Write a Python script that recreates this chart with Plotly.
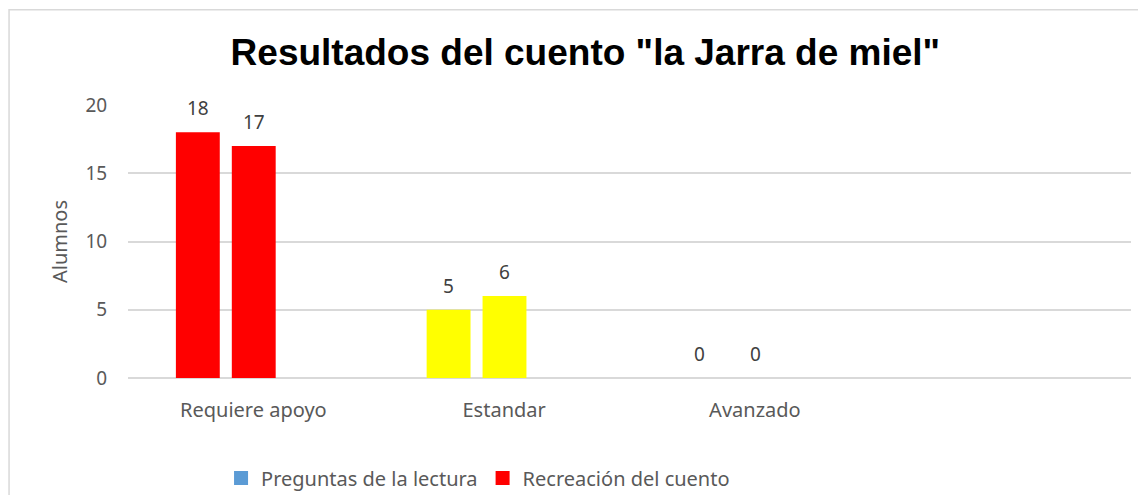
import plotly.graph_objects as go

# ---- data ----
categorias = ["Requiere apoyo", "Estandar", "Avanzado"]
preguntas_lectura = [18, 5, 0]
recreacion_cuento = [17, 6, 0]
colores_nivel = ["#ff0000", "#ffff00", "#ff0000"]

TXT = "#595959"
GRID = "#d9d9d9"
FONT = "Noto Sans"

# the page body has an 8px margin, so the figure is drawn 8px smaller
W, H = 1138, 487

fig = go.Figure()

# each series keeps its own slot inside the group (Excel reserves a 3rd empty one)
series = [
    ("Preguntas de la lectura", preguntas_lectura, "#5b9bd5", -0.309),
    ("Recreación del cuento", recreacion_cuento, "#ff0000", -0.086),
]
for name, vals, legend_col, off in series:
    fig.add_trace(go.Bar(
        x=categorias, y=vals, name=name,
        marker=dict(color=colores_nivel[:len(vals)], line=dict(width=0)),
        width=0.175, offset=off,
        showlegend=False,
    ))
    # legend swatch in the series colour
    fig.add_trace(go.Scatter(
        x=[None], y=[None], name=name, mode="markers",
        marker=dict(color=legend_col, symbol="square", size=14),
        showlegend=True,
    ))

# data labels
shifts = [-55.5, 0.5]
for (name, vals, _, _), dx in zip(series, shifts):
    for cat, v in zip(categorias, vals):
        fig.add_annotation(
            x=cat, y=v, xref="x", yref="y",
            text=str(v), showarrow=False,
            xshift=dx, yshift=24,
            font=dict(family=FONT, size=19, color="#404040"),
        )

# outer chart border
fig.add_shape(
    type="rect", xref="paper", yref="paper",
    x0=-0.1186, x1=1.05, y0=-0.6, y1=1.349,
    line=dict(color=GRID, width=1.5), fillcolor="rgba(0,0,0,0)",
)

fig.update_layout(
    width=W, height=H,
    margin=dict(l=120, r=15, t=97, b=117, autoexpand=False),
    paper_bgcolor="white", plot_bgcolor="white",
    barmode="group",
    title=dict(
        text='Resultados del cuento "la Jarra de miel"',
        x=0.456, xanchor="center", xref="paper",
        y=1 - 44 / H, yanchor="middle",
        font=dict(family="Liberation Sans", size=37, color="black", weight="bold"),
    ),
    xaxis=dict(
        type="category", range=[-0.5, 3.5], automargin=False,
        showgrid=False, showline=False, zeroline=False,
        ticks="outside", ticklen=14, tickcolor="rgba(0,0,0,0)",
        tickfont=dict(family=FONT, size=20, color=TXT),
    ),
    yaxis=dict(
        range=[0, 20], dtick=5, automargin=False,
        showgrid=True, gridcolor=GRID, gridwidth=1.5,
        zeroline=True, zerolinecolor=GRID, zerolinewidth=1.5,
        showline=False,
        ticks="outside", ticklen=16, tickcolor="rgba(0,0,0,0)",
        tickfont=dict(family=FONT, size=19, color=TXT),
        title=dict(text="Alumnos", standoff=12,
                   font=dict(family=FONT, size=20, color=TXT)),
    ),
    legend=dict(
        orientation="h", x=0.349, xanchor="center",
        y=-0.366, yanchor="middle",
        font=dict(family=FONT, size=20, color=TXT),
        itemwidth=30, traceorder="normal",
    ),
)

fig.write_html("out.html")
